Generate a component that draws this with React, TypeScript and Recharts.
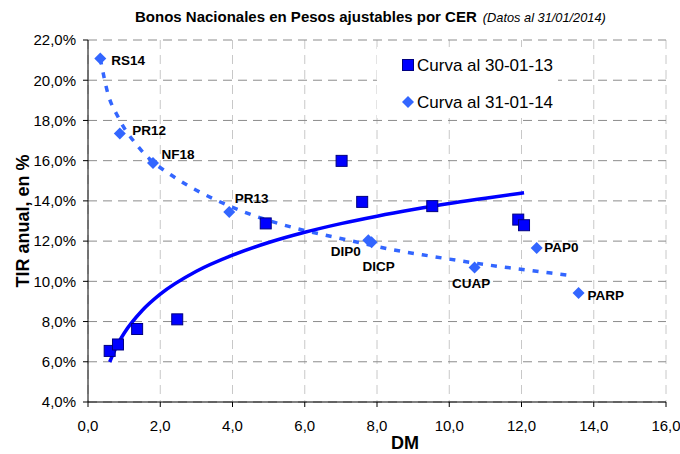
import React from 'react'
import {
  ComposedChart,
  Scatter,
  Line,
  XAxis,
  YAxis,
  CartesianGrid,
} from 'recharts'

// Curva al 30-01-13 (cuadrados)
const squaresDM = [0.6, 0.83, 1.36, 2.47, 4.92, 7.02, 7.59, 9.53, 11.91, 12.07]
const squaresTIR = [6.54, 6.86, 7.63, 8.11, 12.88, 15.99, 13.95, 13.74, 13.07, 12.79]

// Curva al 31-01-14 (rombos)
const bondNames = ['RS14', 'PR12', 'NF18', 'PR13', 'DIP0', 'DICP', 'CUAP', 'PAP0', 'PARP']
const bondsDM = [0.34, 0.88, 1.8, 3.91, 7.76, 7.85, 10.7, 12.42, 13.58]
const bondsTIR = [21.08, 17.35, 15.89, 13.45, 12.04, 11.94, 10.69, 11.66, 9.42]

// lineas de tendencia
const trend13DM = [0.6, 0.8, 1.0, 1.5, 2.0, 3.0, 4.0, 5.0, 6.0, 7.0, 8.0, 9.0, 10.0, 11.0, 12.07]
const trend13TIR = [5.99, 6.8, 7.42, 8.55, 9.36, 10.5, 11.3, 11.93, 12.44, 12.87, 13.24, 13.57, 13.87, 14.13, 14.4]
const trend14DM = [0.34, 0.55, 0.83, 1.43, 2.45, 3.0, 3.56, 4.56, 5.77, 6.79, 7.34, 8.41, 9.5, 11.13, 12.22, 13.3]
const trend14TIR = [21.08, 19.34, 18.18, 16.61, 15.11, 14.53, 14.03, 13.29, 12.63, 12.21, 11.99, 11.58, 11.25, 10.8, 10.55, 10.3]

const xTicks = [0, 2, 4, 6, 8, 10, 12, 14, 16]
const yTicks = [4, 6, 8, 10, 12, 14, 16, 18, 20, 22]

const FONT = '"Liberation Sans", Arial, sans-serif'

const squares = squaresDM.map((x, i) => ({ x, y: squaresTIR[i] }))
const bonds = bondsDM.map((x, i) => ({ x, y: bondsTIR[i], name: bondNames[i] }))
const trend13 = trend13DM.map((x, i) => ({ x, y: trend13TIR[i] }))
const trend14 = trend14DM.map((x, i) => ({ x, y: trend14TIR[i] }))

// posicion de cada etiqueta respecto del rombo
const labelOffsets: Record<string, { dx: number; dy: number }> = {
  RS14: { dx: 11, dy: 1.5 },
  PR12: { dx: 12.5, dy: -3 },
  NF18: { dx: 8.5, dy: -8.5 },
  PR13: { dx: 5.5, dy: -13.5 },
  DIP0: { dx: -37.5, dy: 11.5 },
  DICP: { dx: -9, dy: 24 },
  CUAP: { dx: -22.5, dy: 16 },
  PAP0: { dx: 7.5, dy: 0 },
  PARP: { dx: 9, dy: 2.5 },
}

const fmtX = (v: number) => v.toFixed(1).replace('.', ',')
const fmtY = (v: number) => `${v.toFixed(1).replace('.', ',')}%`

const SquareDot = (props: any) => {
  const { cx, cy } = props
  return <rect x={cx - 5.5} y={cy - 5.5} width={11} height={11} fill="#0000FF" stroke="#000080" strokeWidth={1} />
}

const DiamondDot = (props: any) => {
  const { cx, cy, payload } = props
  const r = 6
  const off = labelOffsets[payload.name] || { dx: 8, dy: 0 }
  return (
    <g>
      <polygon
        points={`${cx},${cy - r} ${cx + r},${cy} ${cx},${cy + r} ${cx - r},${cy}`}
        fill="#3366FF"
      />
      <text
        x={cx + off.dx}
        y={cy + off.dy}
        dominantBaseline="central"
        fontFamily={FONT}
        fontSize={13.5}
        fontWeight="bold"
        fill="#000"
      >
        {payload.name}
      </text>
    </g>
  )
}

export default function App() {
  return (
    <div style={{ position: 'absolute', left: 0, top: 0, width: 680, height: 454, background: '#fff' }}>
      <ComposedChart width={680} height={454} margin={{ top: 40, right: 14, bottom: 0, left: 0 }}>
        <CartesianGrid horizontal={false} stroke="#c8c8c8" strokeDasharray="9 6" />
        <CartesianGrid vertical={false} stroke="#8c8c8c" strokeDasharray="9 6" />
        <XAxis
          type="number"
          dataKey="x"
          domain={[0, 16]}
          ticks={xTicks}
          interval={0}
          tickFormatter={fmtX}
          height={52}
          tickSize={5}
          tickMargin={13}
          axisLine={{ stroke: '#000' }}
          tickLine={{ stroke: '#000' }}
          tick={{ fill: '#000', fontSize: 15, fontFamily: FONT }}
          allowDataOverflow
        />
        <YAxis
          type="number"
          dataKey="y"
          domain={[4, 22]}
          ticks={yTicks}
          interval={0}
          tickFormatter={fmtY}
          width={88}
          tickSize={5}
          tickMargin={7}
          axisLine={{ stroke: '#000' }}
          tickLine={{ stroke: '#000' }}
          tick={{ fill: '#000', fontSize: 15, fontFamily: FONT }}
          allowDataOverflow
        />
        <Line
          data={trend14}
          dataKey="y"
          type="monotone"
          stroke="#3366FF"
          strokeWidth={3.5}
          strokeDasharray="6 8"
          dot={false}
          activeDot={false}
          isAnimationActive={false}
        />
        <Line
          data={trend13}
          dataKey="y"
          type="monotone"
          stroke="#0000FF"
          strokeWidth={3.5}
          dot={false}
          activeDot={false}
          isAnimationActive={false}
        />
        <Scatter data={squares} dataKey="y" shape={SquareDot} isAnimationActive={false} />
        <Scatter data={bonds} dataKey="y" shape={DiamondDot} isAnimationActive={false} />
      </ComposedChart>

      <svg width={680} height={454} style={{ position: 'absolute', left: 0, top: 0, pointerEvents: 'none' }}>
        <text x={135} y={21.7} fontFamily={FONT} fill="#000">
          <tspan fontSize={15} fontWeight="bold">Bonos Nacionales en Pesos ajustables por CER</tspan>
          <tspan fontSize={12.8} fontStyle="italic" dx={6}>(Datos al 31/01/2014)</tspan>
        </text>
        <text
          transform="translate(23,221) rotate(-90)"
          textAnchor="middle"
          dominantBaseline="central"
          fontFamily={FONT}
          fontSize={18}
          fontWeight="bold"
          fill="#000"
        >
          TIR anual, en %
        </text>
        <text
          x={405}
          y={443}
          textAnchor="middle"
          dominantBaseline="central"
          fontFamily={FONT}
          fontSize={18}
          fontWeight="bold"
          fill="#000"
        >
          DM
        </text>
      </svg>

      <div
        style={{
          position: 'absolute',
          left: 377,
          top: 47,
          width: 181,
          height: 71,
          background: '#fff',
          fontFamily: FONT,
          fontSize: 17,
          color: '#000',
        }}
      >
        <svg width={181} height={71} style={{ position: 'absolute', left: 0, top: 0 }}>
          <rect x={25.5} y={12.5} width={11} height={11} fill="#0000FF" stroke="#000080" />
          <polygon points="31,49 37,55 31,61 25,55" fill="#3366FF" />
          <text x={40} y={18} dominantBaseline="central" fontFamily={FONT} fontSize={17} fill="#000">
            Curva al 30-01-13
          </text>
          <text x={40} y={55} dominantBaseline="central" fontFamily={FONT} fontSize={17} fill="#000">
            Curva al 31-01-14
          </text>
        </svg>
      </div>
    </div>
  )
}
